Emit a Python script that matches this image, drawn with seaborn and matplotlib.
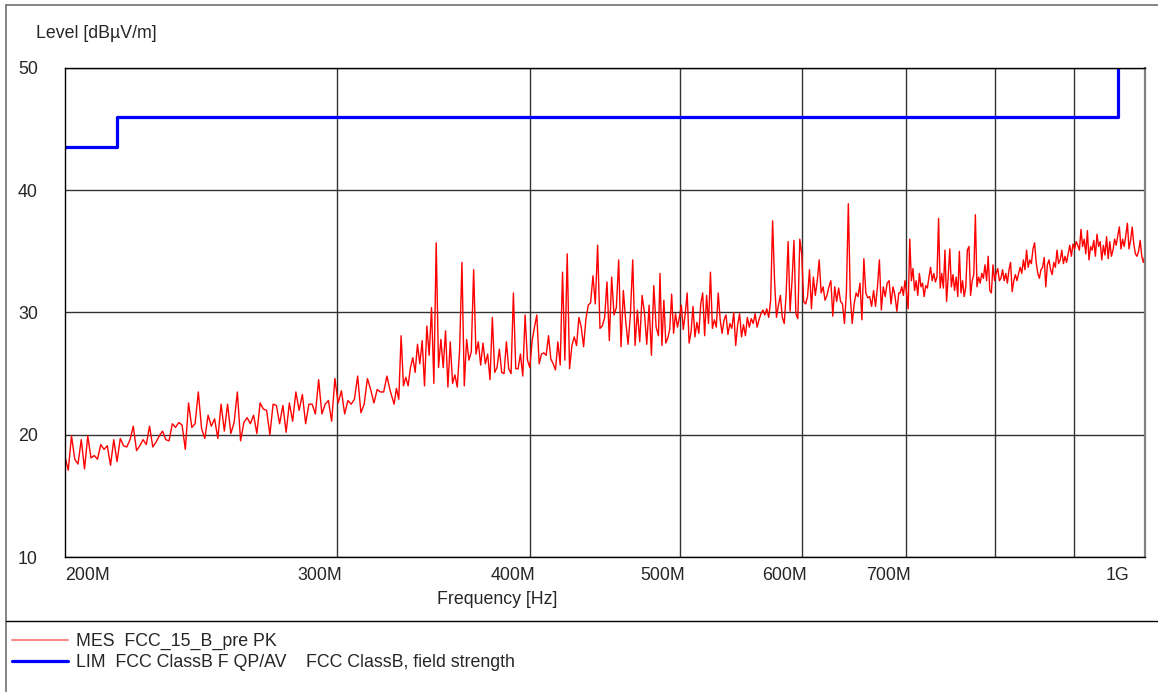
import numpy as np
import pandas as pd
import matplotlib
matplotlib.use("Agg")
import matplotlib.pyplot as plt
import seaborn as sns
from matplotlib.lines import Line2D
from matplotlib.ticker import NullLocator

# ---- data ---- #

# sweep is split into four pieces, each with its start/stop frequency in MHz
seg_a_range = (200.0, 324.7)
seg_a_level = [18.2, 17.1, 19.9, 18.0, 17.6, 19.6, 17.2, 19.9, 18.1, 18.3,
               18.0, 19.2, 18.8, 19.1, 17.5, 19.6, 17.8, 19.7, 19.1, 19.0,
               19.6, 20.7, 18.7, 19.1, 19.6, 19.2, 20.7, 19.0, 19.4, 19.9,
               20.3, 19.6, 19.5, 20.9, 20.6, 21.0, 20.8, 18.8, 22.6, 20.6,
               20.9, 23.5, 20.5, 19.7, 21.6, 20.7, 21.3, 19.7, 22.5, 20.3,
               22.5, 20.1, 21.0, 23.5, 19.5, 21.0, 21.4, 20.9, 21.6, 20.1,
               22.6, 22.1, 22.0, 20.0, 22.5, 22.4, 20.9, 22.4, 20.2, 22.6,
               21.1, 23.5, 22.0, 23.3, 20.9, 22.5, 22.5, 21.7, 24.5, 21.7,
               22.5, 22.8, 21.1, 24.6, 22.6, 23.6, 21.7, 22.8, 22.5, 22.9,
               24.8, 21.8, 22.5, 24.6, 23.7, 22.6, 23.7, 23.5, 23.5, 24.8,
               23.6]

seg_b_range = (326.6, 484.3)
seg_b_level = [22.5, 23.8, 22.9, 28.1, 24.0, 24.7, 24.0, 25.5, 26.3, 25.1,
               27.4, 25.8, 27.7, 24.0, 28.9, 26.5, 30.4, 24.2, 35.7, 25.5,
               27.8, 25.5, 28.5, 23.9, 27.6, 24.2, 24.9, 23.9, 26.9, 34.1,
               24.0, 27.8, 26.1, 26.8, 33.5, 26.6, 27.6, 25.7, 27.5, 25.8,
               26.6, 24.5, 29.6, 25.1, 25.5, 27.0, 25.1, 25.0, 27.6, 25.4,
               25.0, 31.6, 25.4, 25.4, 26.6, 24.8, 29.8, 26.1, 25.5, 27.7,
               28.8, 29.8, 25.8, 26.6, 26.7, 26.5, 28.1, 26.2, 25.8, 25.3,
               27.6, 25.7, 33.3, 26.1, 34.8, 25.4, 27.3, 28.0, 27.3, 29.6,
               28.8, 27.2, 29.5, 30.6, 30.8, 33.0, 30.7, 35.5, 28.7, 28.9,
               29.6, 32.5, 27.7, 32.9, 29.8, 30.4, 34.3, 27.2, 31.8, 29.3,
               27.4, 29.8, 34.3, 27.3, 30.2, 27.6, 31.4, 30.0, 27.4, 30.6,
               26.5, 32.2, 28.8, 28.1]

seg_c_range = (485.4, 692.9)
seg_c_level = [33.2, 27.3, 31.0, 27.5, 27.9, 28.6, 31.5, 28.3, 29.9, 28.8,
               29.6, 30.6, 28.6, 29.9, 31.6, 27.5, 28.4, 30.5, 28.0, 29.2,
               28.3, 30.7, 31.6, 28.1, 31.4, 29.1, 33.3, 28.7, 29.4, 28.8,
               31.6, 29.4, 28.3, 29.4, 29.8, 28.2, 29.1, 28.7, 30.0, 27.3,
               29.0, 29.9, 28.0, 29.0, 28.1, 29.6, 28.8, 29.5, 29.1, 29.9,
               28.8, 29.4, 29.9, 30.2, 29.8, 30.3, 29.6, 31.0, 37.5, 32.6,
               29.6, 30.6, 31.4, 29.6, 29.1, 31.6, 35.8, 30.1, 32.6, 35.9,
               29.9, 29.5, 36.0, 34.8, 30.9, 30.7, 31.3, 33.5, 30.3, 32.9,
               31.4, 32.6, 34.3, 31.6, 32.1, 31.0, 31.4, 32.1, 32.6, 29.7,
               32.1, 30.9, 32.0, 30.9, 30.7, 29.1, 31.6, 38.9, 31.3, 29.1,
               30.7, 31.6, 31.3, 32.4, 29.4, 34.4, 31.6, 31.2, 31.3, 30.5,
               31.8, 30.5, 32.1, 34.3, 30.2, 32.1, 31.3, 32.4, 32.6, 30.7,
               32.1, 31.4, 30.1, 31.6]

seg_d_range = (694.3, 1000.0)
seg_d_level = [31.6, 32.1, 31.4, 32.6, 31.6, 30.3, 36.0, 32.6, 33.6, 31.8,
               32.6, 31.4, 33.2, 32.1, 32.4, 31.3, 32.2, 32.0, 32.9, 33.7,
               32.6, 33.2, 32.5, 32.9, 37.7, 32.0, 33.2, 32.0, 35.1, 30.9,
               32.9, 35.2, 32.1, 33.1, 31.8, 32.9, 31.3, 35.0, 31.6, 32.6,
               31.3, 32.1, 35.1, 35.4, 31.4, 32.6, 33.1, 38.0, 32.1, 32.9,
               32.4, 33.2, 32.8, 33.9, 32.6, 34.6, 31.8, 31.6, 33.9, 32.6,
               33.2, 33.6, 32.6, 32.8, 33.5, 32.6, 33.2, 32.4, 33.5, 34.1,
               31.7, 32.6, 33.1, 32.6, 33.2, 33.7, 33.2, 34.3, 33.5, 35.1,
               33.7, 34.3, 34.0, 35.2, 35.7, 34.1, 33.2, 32.8, 33.5, 33.7,
               34.5, 32.1, 33.9, 34.3, 33.5, 33.1, 34.1, 33.7, 35.1, 34.0,
               34.3, 35.1, 34.0, 34.6, 34.1, 34.8, 35.5, 34.6, 35.6, 35.2,
               35.8, 35.5, 35.1, 36.8, 35.4, 36.0, 34.8, 36.7, 34.3, 35.4,
               35.1, 35.9, 34.6, 36.4, 35.4, 35.8, 34.3, 35.5, 34.7, 36.2,
               34.4, 35.8, 34.6, 35.1, 36.0, 35.5, 36.3, 37.0, 35.2, 36.0,
               35.4, 36.3, 37.3, 35.2, 35.9, 37.0, 35.6, 34.8, 34.6, 35.0,
               35.9, 34.6, 34.1, 34.7]

# FCC class B limit (stepped)
lim_freq = [200, 216, 216, 960, 960]
lim_level = [43.5, 43.5, 46.0, 46.0, 54.0]

grid_freq = [300, 400, 500, 600, 700, 800, 900]
tick_freq = [200, 300, 400, 500, 600, 700, 1000]
tick_text = ["200M", "300M", "400M", "500M", "600M", "700M", "1G"]
y_ticks = [10, 20, 30, 40, 50]

mes_label = "MES  FCC_15_B_pre PK"
lim_label = "LIM  FCC ClassB F QP/AV    FCC ClassB, field strength"

# ---- build tables ---- #
segments = [(seg_a_range, seg_a_level), (seg_b_range, seg_b_level),
            (seg_c_range, seg_c_level), (seg_d_range, seg_d_level)]
# sweep points sit evenly on the log frequency axis inside each piece
mes = pd.DataFrame({
    "freq": np.concatenate([np.geomspace(r[0], r[1], len(l)) for r, l in segments]),
    "level": np.concatenate([l for r, l in segments]),
})
lim = pd.DataFrame({"freq": lim_freq, "level": lim_level})

# ---- plot ---- #
sns.set_theme(style="white")
plt.rcParams["font.family"] = ["Liberation Sans", "DejaVu Sans"]
FS = 12.8

W, H = 1158, 692
fig = plt.figure(figsize=(W / 100, H / 100), dpi=100)
ax = fig.add_axes([65 / W, 1 - 557 / H, 1080 / W, 489 / H])

sns.lineplot(data=mes, x="freq", y="level", estimator=None, sort=False,
             color="#ff0000", lw=1.0, ax=ax)
sns.lineplot(data=lim, x="freq", y="level", estimator=None, sort=False,
             color="#0000ff", lw=2.3, ax=ax)

ax.set_xscale("log")
ax.set_xlim(200, 1000)
ax.set_ylim(10, 50)
ax.set_xticks(grid_freq)
ax.xaxis.set_minor_locator(NullLocator())
ax.set_xticklabels([])
ax.set_yticks(y_ticks)
ax.set_yticklabels([str(v) for v in y_ticks])
ax.tick_params(axis="both", length=0)
ax.tick_params(axis="y", pad=33.8, labelsize=FS)
for lab in ax.get_yticklabels():
    lab.set_horizontalalignment("left")
ax.grid(True, color="#333333", lw=1.0)
ax.set_xlabel("")
ax.set_ylabel("")

for s in ["top", "left", "bottom"]:
    ax.spines[s].set_color("#000000")
    ax.spines[s].set_linewidth(1.0)
ax.spines["right"].set_color("#808080")
ax.spines["right"].set_linewidth(1.6)

# frequency labels sit just left of their grid line
for f, t in zip(tick_freq, tick_text):
    if t == "200M":
        ha, dx = "left", 0
    elif t == "1G":
        ha, dx = "right", -11.5
    else:
        ha, dx = "right", 3.6
    ax.annotate(t, xy=(f, 0), xycoords=("data", "axes fraction"),
                xytext=(dx, -7.5), textcoords="offset points",
                ha=ha, va="top", fontsize=FS)

fig.text(36 / W, 1 - 33 / H, "Level [dB\u00b5V/m]", ha="left", va="center", fontsize=FS)
fig.text(497 / W, 1 - 599 / H, "Frequency [Hz]", ha="center", va="center", fontsize=FS)

# frame + separator
fig.add_artist(Line2D([6 / W, 6 / W], [0, 1 - 5 / H], color="#707070", lw=1.2,
                      transform=fig.transFigure))
fig.add_artist(Line2D([6 / W, 1], [1 - 5 / H, 1 - 5 / H], color="#707070", lw=1.2,
                      transform=fig.transFigure))
fig.add_artist(Line2D([6 / W, 1], [1 - 621 / H, 1 - 621 / H], color="#000000", lw=1.0,
                      transform=fig.transFigure))

handles = [Line2D([], [], color="#ff8c8c", lw=1.5),
           Line2D([], [], color="#0000ff", lw=2.3)]
fig.legend(handles, [mes_label, lim_label], loc="upper left",
           bbox_to_anchor=(12 / W, 1 - 633 / H), frameon=False, fontsize=FS,
           handlelength=3.15, handletextpad=0.45, borderpad=0, borderaxespad=0,
           labelspacing=0.2)

fig.savefig("out.png", dpi=100)
